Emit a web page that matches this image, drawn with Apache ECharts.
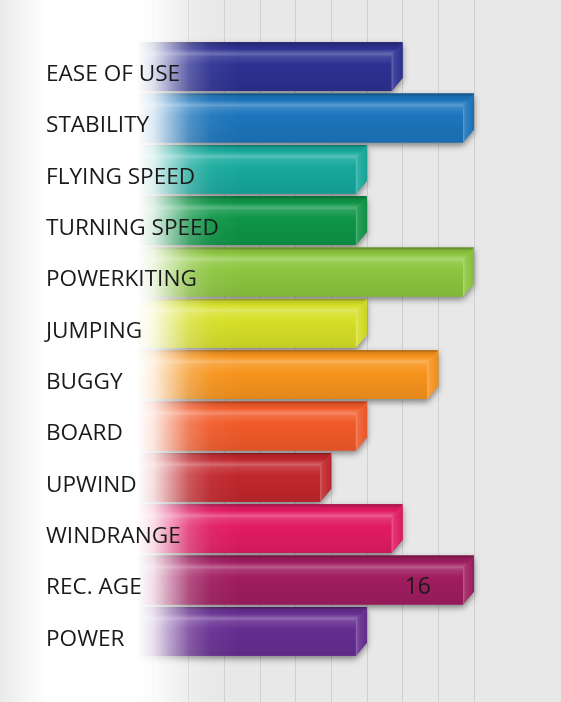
<!DOCTYPE html>
<html>
<head>
<meta charset="utf-8">
<script src="https://cdn.jsdelivr.net/npm/echarts@6/dist/echarts.min.js"></script>
<style>
  html, body { margin: 0; padding: 0; background: #e8e8e8; }
  #chart { width: 561px; height: 702px; }
</style>
</head>
<body>
<div id="chart"></div>
<script>
// kite ratings, 0-10 scale
var categories = ['EASE OF USE', 'STABILITY', 'FLYING SPEED', 'TURNING SPEED', 'POWERKITING',
  'JUMPING', 'BUGGY', 'BOARD', 'UPWIND', 'WINDRANGE', 'REC. AGE', 'POWER'];
var ratings = [8, 10, 7, 7, 10, 7, 9, 7, 6, 8, 10, 7];
var barNotes = ['', '', '', '', '', '', '', '', '', '', '16', ''];
var barColors = ['#2e3192', '#1c75bc', '#17a99c', '#0e9547', '#8cc63f', '#d5df26',
  '#f7941d', '#f15a29', '#c1272d', '#e21b63', '#a01d60', '#662d91'];

function mix(hex, target, t) {
  var n = parseInt(hex.slice(1), 16);
  var r = n >> 16, g = (n >> 8) & 255, b = n & 255;
  r = Math.round(r + (target - r) * t);
  g = Math.round(g + (target - g) * t);
  b = Math.round(b + (target - b) * t);
  return 'rgb(' + r + ',' + g + ',' + b + ')';
}

var LG = echarts.graphic.LinearGradient;

function renderBar(params, api) {
  var i = api.value(1);
  var end = api.coord([api.value(0), i]);
  var start = api.coord([0, i]);
  var band = api.size([0, 1])[1];
  var h = band * 0.95;
  var cy = end[1];
  var top = cy - h / 2, bot = cy + h / 2;
  var x0 = start[0], xe = end[0];
  var dx = 11, dy = 13;
  var c = barColors[i];

  var kids = [];
  // outline carrying the drop shadow
  kids.push({
    type: 'polygon',
    shape: { points: [[x0, top], [xe, top], [xe, bot - dy], [xe - dx, bot], [x0, bot]] },
    style: { fill: c, shadowBlur: 6, shadowOffsetY: 3, shadowColor: 'rgba(0,0,0,0.45)' }
  });
  // front + top face
  kids.push({
    type: 'polygon',
    shape: { points: [[x0, top], [xe, top], [xe - dx, top + dy], [xe - dx, bot], [x0, bot]] },
    style: {
      fill: new LG(0, 0, 0, 1, [
        { offset: 0, color: mix(c, 0, 0.35) },
        { offset: 0.05, color: mix(c, 0, 0.1) },
        { offset: 0.14, color: c },
        { offset: 0.24, color: mix(c, 255, 0.28) },
        { offset: 0.29, color: mix(c, 255, 0.12) },
        { offset: 0.45, color: c },
        { offset: 1, color: mix(c, 0, 0.08) }
      ])
    }
  });
  // right facet
  kids.push({
    type: 'polygon',
    shape: { points: [[xe - dx, top + dy], [xe, top], [xe, bot - dy], [xe - dx, bot]] },
    style: {
      fill: new LG(0, 0, 1, 0, [
        { offset: 0, color: mix(c, 255, 0.3) },
        { offset: 0.2, color: mix(c, 255, 0.1) },
        { offset: 1, color: mix(c, 0, 0.05) }
      ])
    }
  });
  if (barNotes[i]) {
    kids.push({
      type: 'text',
      style: {
        text: barNotes[i],
        x: xe - dx - 32,
        y: cy + 7,
        align: 'right',
        verticalAlign: 'middle',
        fill: '#1a1a1a',
        fontSize: 23,
        fontFamily: 'Open Sans'
      }
    });
  }
  return { type: 'group', children: kids };
}

var chart = echarts.init(document.getElementById('chart'));
chart.setOption({
  backgroundColor: '#e8e8e8',
  animation: false,
  grid: [
    { left: 117, right: 87, top: 41, bottom: 45 },
    { left: 117, right: 87, top: 0, bottom: 0 }
  ],
  xAxis: [
    { gridIndex: 0, type: 'value', min: 0, max: 10, interval: 1, show: false },
    {
      gridIndex: 1, type: 'value', min: 0, max: 10, interval: 1,
      axisLine: { show: false }, axisTick: { show: false }, axisLabel: { show: false },
      splitLine: { show: true, lineStyle: { color: '#d0d0d0', width: 1 } }
    }
  ],
  yAxis: [
    {
      gridIndex: 0, type: 'category', data: categories, inverse: true, z: 10,
      axisLine: { show: false }, axisTick: { show: false },
      axisLabel: {
        align: 'left', verticalAlign: 'top', lineHeight: 16, margin: 71,
        color: '#1a1a1a', fontSize: 22.6, fontFamily: 'Open Sans'
      }
    },
    { gridIndex: 1, type: 'value', show: false }
  ],
  graphic: [{
    type: 'rect', z: 5, silent: true,
    shape: { x: 0, y: 0, width: 240, height: 702 },
    style: {
      fill: new LG(0, 0, 1, 0, [
        { offset: 0, color: 'rgba(255,255,255,0.1)' },
        { offset: 0.19, color: 'rgba(255,255,255,1)' },
        { offset: 0.57, color: 'rgba(255,255,255,1)' },
        { offset: 0.64, color: 'rgba(255,255,255,0.85)' },
        { offset: 0.71, color: 'rgba(255,255,255,0.55)' },
        { offset: 0.79, color: 'rgba(255,255,255,0.22)' },
        { offset: 0.88, color: 'rgba(255,255,255,0.05)' },
        { offset: 1, color: 'rgba(255,255,255,0)' }
      ])
    }
  }],
  series: [{
    type: 'custom',
    xAxisIndex: 0, yAxisIndex: 0, z: 2,
    renderItem: renderBar,
    encode: { x: 0, y: 1 },
    data: ratings.map(function (v, i) { return [v, i]; })
  }]
});
</script>
</body>
</html>
